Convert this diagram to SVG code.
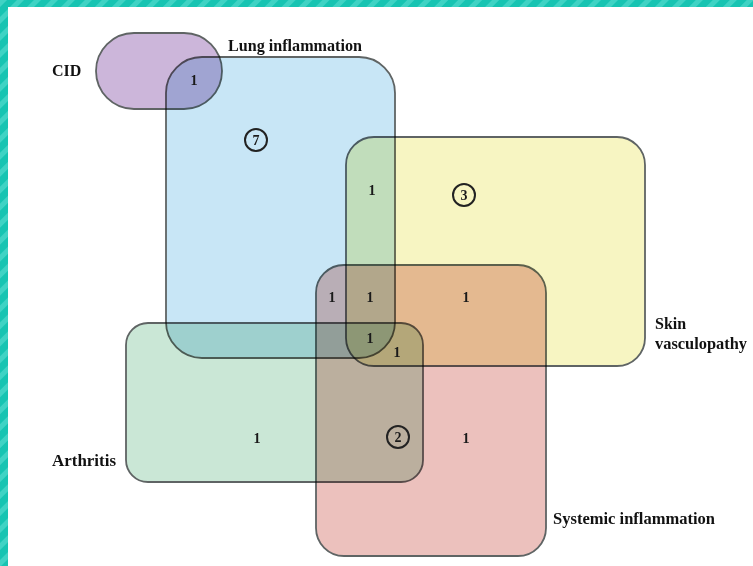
<svg xmlns="http://www.w3.org/2000/svg" width="753" height="566" viewBox="0 0 753 566">
<defs>
<pattern id="stripes" patternUnits="userSpaceOnUse" width="12" height="12" patternTransform="rotate(45)">
<rect width="12" height="12" fill="#17c4b2"/>
<rect width="5" height="12" fill="#3fd3c4"/>
</pattern>
</defs>
<style>
.set{mix-blend-mode:multiply;stroke:#5f6464;stroke-width:1.8}
.lbl{font-family:"Liberation Serif","Times New Roman",serif;font-weight:bold;font-size:16px;fill:#111}
.num{font-family:"Liberation Serif","Times New Roman",serif;font-weight:bold;font-size:14px;fill:#1a1a1a;text-anchor:middle}
.ring{fill:none;stroke:#222;stroke-width:2}
</style>
<rect width="753" height="566" fill="#ffffff"/>
<rect x="0" y="0" width="753" height="7" fill="url(#stripes)"/>
<rect x="0" y="0" width="8" height="566" fill="url(#stripes)"/>

<g id="lung">
<rect class="set" x="166" y="57" width="229" height="301" rx="36" fill="#c8e6f6"/>
<text class="lbl" x="228" y="51" textLength="134" lengthAdjust="spacingAndGlyphs">Lung inflammation</text>
</g>
<g id="cid">
<rect class="set" x="96" y="33" width="126" height="76" rx="38" fill="#ccb6da"/>
<text class="lbl" x="52" y="76" font-size="17">CID</text>
</g>
<g id="skin">
<rect class="set" x="346" y="137" width="299" height="229" rx="28" fill="#f7f5c2"/>
<text class="lbl" x="655" y="329">Skin</text>
<text class="lbl" x="655" y="349" textLength="92" lengthAdjust="spacingAndGlyphs">vasculopathy</text>
</g>
<g id="systemic">
<rect class="set" x="316" y="265" width="230" height="291" rx="28" fill="#ecc1bd"/>
<text class="lbl" x="553" y="524" textLength="162" lengthAdjust="spacingAndGlyphs">Systemic inflammation</text>
</g>
<g id="arthritis">
<rect class="set" x="126" y="323" width="297" height="159" rx="22" fill="#cae7d6"/>
<text class="lbl" x="52" y="466" textLength="64" lengthAdjust="spacingAndGlyphs">Arthritis</text>
</g>

<g id="counts">
<text class="num" x="194" y="85">1</text>
<circle class="ring" cx="256" cy="140" r="11"/>
<text class="num" x="256" y="145">7</text>
<text class="num" x="372" y="195">1</text>
<circle class="ring" cx="464" cy="195" r="11"/>
<text class="num" x="464" y="200">3</text>
<text class="num" x="332" y="302">1</text>
<text class="num" x="370" y="302">1</text>
<text class="num" x="466" y="302">1</text>
<text class="num" x="370" y="343">1</text>
<text class="num" x="397" y="357">1</text>
<text class="num" x="257" y="443">1</text>
<circle class="ring" cx="398" cy="437" r="11"/>
<text class="num" x="398" y="442">2</text>
<text class="num" x="466" y="443">1</text>
</g>
<g id="connectors"/>
</svg>
